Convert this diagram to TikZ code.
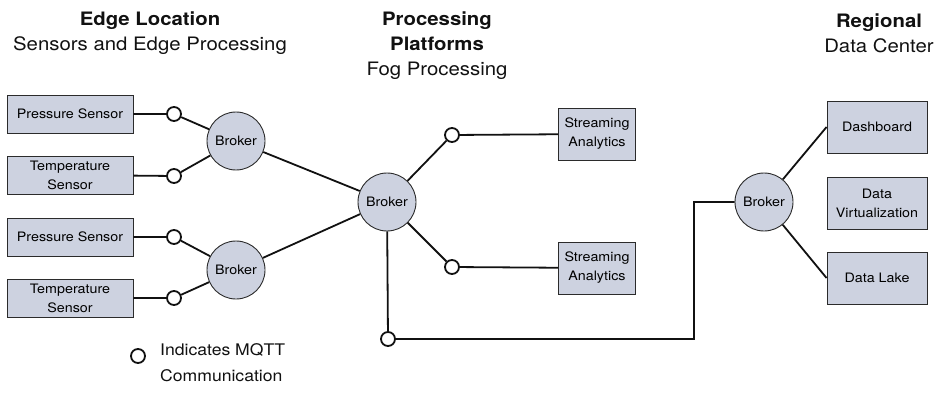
\documentclass[tikz,border=0pt]{standalone}
\usepackage{fontspec}
\setmainfont{TeX Gyre Heros}[FakeStretch=1.1]
\usetikzlibrary{positioning,calc}
\definecolor{Ink}{HTML}{111111}
\definecolor{Frame}{HTML}{2B2B2B}
\definecolor{Slab}{HTML}{CDD2E0}
\tikzset{
  unit/.style={draw=Frame,fill=Slab,line width=.9pt,align=center,inner sep=0pt,font=\fontsize{13}{19}\selectfont},
  broker/.style={circle,draw=Frame,fill=Slab,line width=.9pt,minimum size=58pt,inner sep=0pt,font=\fontsize{13}{19}\selectfont},
  mqtt/.style={circle,draw=Ink,fill=white,line width=1.8pt,minimum size=14pt,inner sep=0pt},
  link/.style={draw=Ink,line width=1.8pt},
  head/.style={align=center,inner sep=0pt,font=\fontsize{18.5}{25}\selectfont,text=Ink}
}
\begin{document}
\begin{tikzpicture}[x=1pt,y=-1pt]
        \useasboundingbox (0,0) rectangle (938,412);
        % column headers
        \node[head] (hedge) at (150,33.5) {\textbf{Edge Location}\\Sensors and Edge Processing};
        \node[head] (hfog) at (437,45.5) {\textbf{Processing}\\\textbf{Platforms}\\Fog Processing};
        \node[head] (hdc) at (879,33) {\textbf{Regional}\\Data Center};
        % edge sensors
        \node[unit,minimum width=126pt,minimum height=38pt] (ps1) at (70,114) {Pressure Sensor};
        \node[unit,minimum width=126pt,minimum height=38pt] (ts1) at (70,175) {Temperature\\Sensor};
        \node[unit,minimum width=126pt,minimum height=38pt] (ps2) at (70,237) {Pressure Sensor};
        \node[unit,minimum width=126pt,minimum height=38pt] (ts2) at (70,298) {Temperature\\Sensor};
        \node[mqtt] (m1) at (174,114) {};
        \node[mqtt] (m2) at (174,176) {};
        \node[mqtt] (m3) at (174,237) {};
        \node[mqtt] (m4) at (174,298) {};
        \node[broker] (b1) at (236,141) {Broker};
        \node[broker] (b2) at (236,270) {Broker};
        % fog
        \node[broker] (bfog) at (387,202) {Broker};
        \node[mqtt] (f1) at (452,135) {};
        \node[mqtt] (f2) at (452,267) {};
        \node[unit,minimum width=77pt,minimum height=52pt] (sa1) at (597,134) {Streaming\\Analytics};
        \node[unit,minimum width=77pt,minimum height=52pt] (sa2) at (597,268) {Streaming\\Analytics};
        \node[mqtt] (mdc) at (388,339) {};
        \coordinate (turn) at (694,339);
        % data center
        \node[broker] (bdc) at (764,202) {Broker};
        \node[unit,minimum width=100pt,minimum height=52pt] (dash) at (877,127) {Dashboard};
        \node[unit,minimum width=100pt,minimum height=52pt] (virt) at (877,203) {Data\\Virtualization};
        \node[unit,minimum width=100pt,minimum height=52pt] (lake) at (877,278) {Data Lake};
        % connectors
        \draw[link] (ps1) -- (m1) -- (b1);
        \draw[link] (ts1) -- (m2) -- (b1);
        \draw[link] (ps2) -- (m3) -- (b2);
        \draw[link] (ts2) -- (m4) -- (b2);
        \draw[link] (b1) -- (bfog);
        \draw[link] (b2) -- (bfog);
        \draw[link] (bfog) -- (f1) -- (sa1);
        \draw[link] (bfog) -- (f2) -- (sa2);
        \draw[link] (bfog) -- (mdc) -- (turn) |- (bdc);
        \draw[link] (bdc) -- (dash.west);
        \draw[link] (bdc) -- (lake.west);
        % legend
        \node[mqtt] (key) at (138,356) {};
        \node[anchor=west,align=left,inner sep=0pt,font=\fontsize{16}{26}\selectfont,text=Ink] (keytext) at (160,363) {Indicates MQTT\\Communication};
\end{tikzpicture}
\end{document}
